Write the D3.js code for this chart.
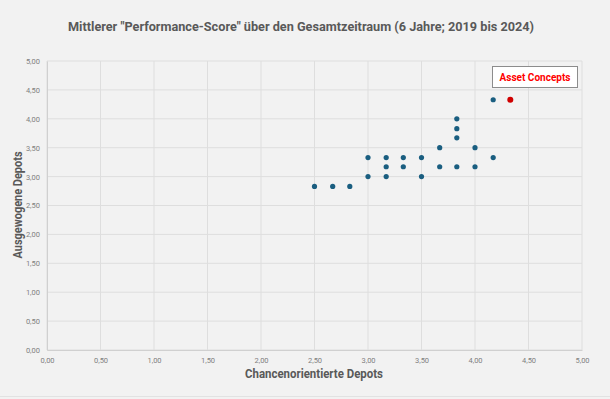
<!DOCTYPE html>
<html>
<head>
<meta charset="utf-8">
<script src="https://cdn.jsdelivr.net/npm/d3@7"></script>
<style>
  body { margin: 0; background: #f2f2f2; }
  svg { display: block; font-family: Roboto, "Liberation Sans", sans-serif; }
</style>
</head>
<body>
<div id="chart"></div>
<script>
// Chancenorientierte Depots (x) / Ausgewogene Depots (y)
var xValues = [2.50, 2.67, 2.83, 3.00, 3.00, 3.17, 3.17, 3.17, 3.33, 3.33, 3.50, 3.50, 3.67, 3.67, 3.83, 3.83, 3.83, 3.83, 4.00, 4.00, 4.17, 4.17];
var yValues = [2.83, 2.83, 2.83, 3.00, 3.33, 3.00, 3.17, 3.33, 3.17, 3.33, 3.00, 3.33, 3.17, 3.50, 3.17, 3.67, 3.83, 4.00, 3.17, 3.50, 3.33, 4.33];
var highlightName = "Asset Concepts";
var highlightX = [4.33];
var highlightY = [4.33];
var tickValues = [0, 0.5, 1, 1.5, 2, 2.5, 3, 3.5, 4, 4.5, 5];

var width = 610, height = 399;
var margin = {left: 47, right: 28, top: 61, bottom: 49};

var svg = d3.select('#chart').append('svg').attr('width', width).attr('height', height);

svg.append('rect').attr('width', width).attr('height', height).attr('fill', '#f2f2f2');
svg.append('line').attr('x1', 0).attr('x2', width).attr('y1', 396.5).attr('y2', 396.5)
  .attr('stroke', '#e2e2e2');

var x = d3.scaleLinear().domain([0, 5]).range([margin.left, width - margin.right]);
var y = d3.scaleLinear().domain([0, 5]).range([height - margin.bottom, margin.top]);
var fmt = function(d){ return d3.format('.2f')(d).replace('.', ','); };

// gridlines
svg.append('g').selectAll('line').data(tickValues).enter().append('line')
  .attr('x1', d => x(d)).attr('x2', d => x(d))
  .attr('y1', y(0)).attr('y2', y(5))
  .attr('stroke', '#dedede').attr('stroke-width', 1);
svg.append('g').selectAll('line').data(tickValues).enter().append('line')
  .attr('x1', x(0)).attr('x2', x(5))
  .attr('y1', d => y(d)).attr('y2', d => y(d))
  .attr('stroke', '#dedede').attr('stroke-width', 1);

// axes
var xAxis = svg.append('g').attr('transform', `translate(0,${y(0)})`)
  .call(d3.axisBottom(x).tickValues(tickValues).tickFormat(fmt).tickSize(0).tickPadding(8));
var yAxis = svg.append('g').attr('transform', `translate(${x(0)},0)`)
  .call(d3.axisLeft(y).tickValues(tickValues).tickFormat(fmt).tickSize(0).tickPadding(7));
[xAxis, yAxis].forEach(function(a){
  a.select('.domain').attr('stroke', '#d0d0d0');
  a.selectAll('text').attr('fill', '#7f7f7f').style('font-size', '7.5px').style('font-family', 'Roboto, sans-serif');
});

// points
var points = xValues.map((d, i) => ({x: d, y: yValues[i]}));
svg.append('g').selectAll('circle').data(points).enter().append('circle')
  .attr('cx', d => x(d.x)).attr('cy', d => y(d.y)).attr('r', 2.6)
  .attr('fill', '#1a5e80');
svg.append('g').selectAll('circle').data(highlightX).enter().append('circle')
  .attr('cx', d => x(d)).attr('cy', (d, i) => y(highlightY[i])).attr('r', 3)
  .attr('fill', '#d00000');

// label box
svg.append('rect').attr('x', 492.5).attr('y', 66.5).attr('width', 85).attr('height', 21)
  .attr('fill', '#ffffff').attr('stroke', '#8c8c8c').attr('stroke-width', 1);
svg.append('text').attr('x', 535).attr('y', 81).attr('text-anchor', 'middle')
  .attr('fill', '#ff0000').style('font-weight', 'bold').style('font-size', '11px')
  .attr('textLength', 71).attr('lengthAdjust', 'spacingAndGlyphs')
  .text(highlightName);

// titles
svg.append('text').attr('x', 301).attr('y', 31).attr('text-anchor', 'middle')
  .attr('fill', '#595959').style('font-weight', 'bold').style('font-size', '13px')
  .attr('textLength', 466).attr('lengthAdjust', 'spacingAndGlyphs')
  .text('Mittlerer "Performance-Score" über den Gesamtzeitraum (6 Jahre; 2019 bis 2024)');

svg.append('text').attr('x', 314).attr('y', 378).attr('text-anchor', 'middle')
  .attr('fill', '#595959').style('font-weight', 'bold').style('font-size', '12px')
  .attr('textLength', 138).attr('lengthAdjust', 'spacingAndGlyphs')
  .text('Chancenorientierte Depots');

svg.append('text').attr('transform', 'translate(22,205) rotate(-90)').attr('text-anchor', 'middle')
  .attr('fill', '#595959').style('font-weight', 'bold').style('font-size', '12px')
  .attr('textLength', 107).attr('lengthAdjust', 'spacingAndGlyphs')
  .text('Ausgewogene Depots');
</script>
</body>
</html>
